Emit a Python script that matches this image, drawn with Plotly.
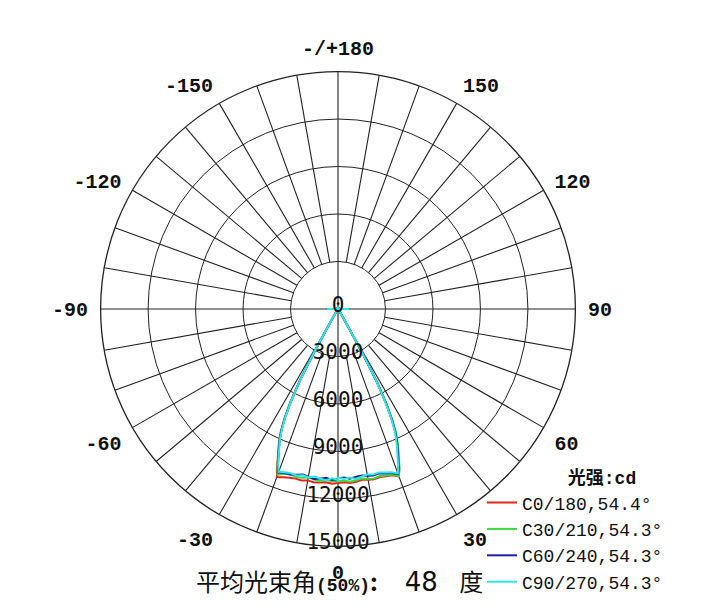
import plotly.graph_objects as go

# Gamma angles (deg from nadir) for the measured half-planes
GAMMA_HEAD = [0, 2, 4, 6, 8, 10, 12, 14, 16, 18, 19, 20, 21, 22, 23, 24, 25, 26, 27, 28, 29]
GAMMA_TAIL = [30, 32, 35, 40, 50, 60, 70, 80, 90, 100, 110, 120, 135, 150, 165, 180]

# Intensities (cd), main beam part per half-plane
C0_HEAD   = [11000, 10950, 11020, 10980, 10900, 10960, 11000, 10940, 11000, 11050, 11150, 11250, 10800, 10200, 9700, 9200, 8600, 7800, 6700, 5300, 3100]
C180_HEAD = [11000, 11050, 10980, 11020, 11060, 11000, 11080, 11050, 11100, 11180, 11250, 11300, 10750, 10150, 9650, 9150, 8550, 7750, 6650, 5250, 3000]
C30_HEAD  = [10900, 10850, 10950, 10880, 10820, 10900, 10950, 10880, 10950, 11000, 11100, 11250, 10850, 10300, 9800, 9300, 8700, 7900, 6800, 5400, 3200]
C210_HEAD = [10850, 10900, 10820, 10950, 10880, 10800, 10900, 10950, 10880, 10950, 11050, 11150, 10650, 10100, 9600, 9100, 8500, 7700, 6600, 5200, 3000]
C60_HEAD  = [10700, 10650, 10750, 10680, 10620, 10700, 10760, 10700, 10820, 10900, 11000, 11100, 10700, 10150, 9650, 9150, 8550, 7750, 6650, 5250, 3050]
C240_HEAD = [10750, 10820, 10700, 10780, 10850, 10760, 10700, 10800, 10880, 10900, 10950, 11000, 10600, 10050, 9550, 9050, 8450, 7650, 6550, 5150, 2950]
C90_HEAD  = [10650, 10750, 10680, 10800, 10700, 10620, 10700, 10650, 10750, 10850, 10950, 11050, 10600, 10050, 9550, 9050, 8450, 7650, 6550, 5150, 2950]
C270_HEAD = [10800, 10700, 10850, 10780, 10700, 10800, 10750, 10850, 10800, 10850, 10900, 10950, 10550, 10000, 9500, 9000, 8400, 7600, 6500, 5100, 2900]
# Low-intensity tail (gamma 30..180), common to all planes
TAIL = [1000, 300, 120, 70, 60, 60, 60, 60, 720, 60, 60, 60, 60, 60, 60, 60]

SERIES = [
    ("C0/180,54.4°", C0_HEAD, C180_HEAD, "#e3241b"),
    ("C30/210,54.3°", C30_HEAD, C210_HEAD, "#3fd83f"),
    ("C60/240,54.3°", C60_HEAD, C240_HEAD, "#1c1ca6"),
    ("C90/270,54.3°", C90_HEAD, C270_HEAD, "#30e6e6"),
]

RADIAL_TICKS = [0, 3000, 6000, 9000, 12000, 15000]
ANGLE_TICKS = [0, 30, 60, 90, 120, 150, 180, 210, 240, 270, 300, 330]
ANGLE_TEXT = ["0", "30", "60", "90", "120", "150", "-/+180", "-150", "-120", "-90", "-60", "-30"]
R_MAX = 15000
LABEL_LIFT = 150  # radial labels sit slightly above (inside) their ring

fig = go.Figure()

# spokes every 10 degrees (from 3000 ring outward, main axes through center)
sp_r, sp_t = [], []
for a in range(0, 360, 10):
    r0 = 0 if a % 90 == 0 else 3000
    sp_r += [r0, R_MAX, None]
    sp_t += [a, a, None]
fig.add_trace(go.Scatterpolar(r=sp_r, theta=sp_t, mode="lines",
                              line=dict(color="#222", width=1.1),
                              showlegend=False, hoverinfo="skip"))

gamma = GAMMA_HEAD + GAMMA_TAIL
for name, right, left, color in SERIES:
    rr = right + TAIL
    ll = left + TAIL
    theta = [-g for g in gamma[::-1]] + gamma
    r = ll[::-1] + rr
    fig.add_trace(go.Scatterpolar(r=r, theta=theta, mode="lines", name=name,
                                  line=dict(color=color, width=2),
                                  hoverinfo="skip"))

# radial value labels along the 0 direction
lab_r, lab_t = [], []
for v in RADIAL_TICKS:
    rv = v - LABEL_LIFT
    lab_r.append(abs(rv))
    lab_t.append(0 if rv >= 0 else 180)
fig.add_trace(go.Scatterpolar(r=lab_r, theta=lab_t, mode="text",
                              text=[str(v) for v in RADIAL_TICKS], textposition="middle center",
                              textfont=dict(family="DejaVu Sans Mono", size=21, color="#111"),
                              showlegend=False, hoverinfo="skip"))

# page body has an 8px margin; figure coordinates are page minus 8
W, H = 688, 592
cx, cy, R = 330, 303, 239
fig.update_layout(
    width=W, height=H,
    margin=dict(l=0, r=0, t=0, b=0),
    paper_bgcolor="white",
    plot_bgcolor="white",
    polar=dict(
        domain=dict(x=[(cx - R) / W, (cx + R) / W], y=[1 - (cy + R) / H, 1 - (cy - R) / H]),
        bgcolor="white",
        angularaxis=dict(rotation=-90, direction="counterclockwise",
                         tickmode="array", tickvals=ANGLE_TICKS, ticktext=ANGLE_TEXT,
                         showgrid=False, showline=True, linecolor="#222", linewidth=1.3,
                         ticks="outside", ticklen=8, tickcolor="rgba(0,0,0,0)",
                         tickfont=dict(family="Liberation Mono", size=20, color="#111", weight="bold")),
        radialaxis=dict(range=[0, R_MAX], tickmode="array", tickvals=[3000, 6000, 9000, 12000],
                        showticklabels=False, ticks="", showline=False,
                        gridcolor="#222", gridwidth=1.1),
    ),
    showlegend=True,
    legend=dict(x=(482 - 8) / W, y=1 - (464 - 8) / H, xanchor="left", yanchor="top",
                bgcolor="rgba(0,0,0,0)",
                font=dict(family="Liberation Mono", size=18, color="#111"),
                title=dict(text="<b>     光强:cd</b>", side="top center",
                           font=dict(family="Liberation Mono, Noto Sans CJK SC", size=18, color="#111")),
                itemwidth=30, tracegroupgap=0),
    annotations=[dict(
        x=(339 - 8) / W, y=1 - (584 - 8) / H, xref="paper", yref="paper", xanchor="center", yanchor="middle",
        showarrow=False,
        text=('平均光束角<b><span style="font-family:Liberation Mono;font-size:18px">(50%)</span></b>'
              '<b>:</b>     <span style="font-family:DejaVu Sans;font-size:26px">48</span>    度'),
        font=dict(family="Noto Sans CJK SC", size=24, color="#111"),
    )],
)

fig.write_html("out.html")
